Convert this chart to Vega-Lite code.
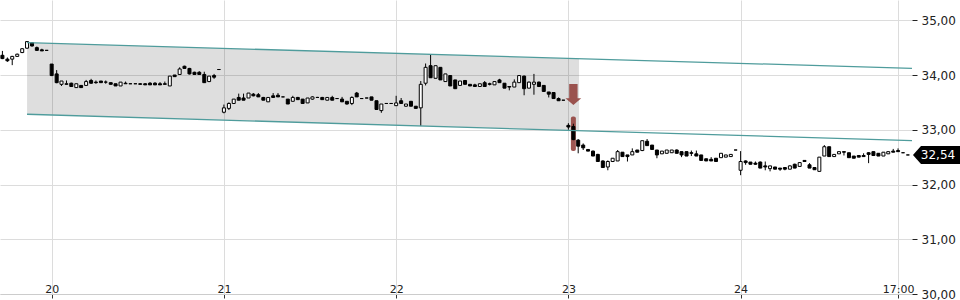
{
  "$schema": "https://vega.github.io/schema/vega-lite/v6.json",
  "width": 912,
  "height": 294,
  "autosize": {"type": "pad"},
  "padding": 0,
  "background": "#ffffff",
  "config": {
    "view": {"stroke": null},
    "axis": {"labelFont": "DejaVu Sans", "labelColor": "#222222", "gridColor": "#dcdcdc", "gridWidth": 1}
  },
  "datasets": {
    "candles": [
      {"t":19.714,"o":34.36,"h":34.44,"l":34.29,"c":34.30},
      {"t":19.743,"o":34.29,"h":34.32,"l":34.24,"c":34.26},
      {"t":19.771,"o":34.29,"h":34.35,"l":34.18,"c":34.34},
      {"t":19.8,"o":34.34,"h":34.39,"l":34.33,"c":34.38},
      {"t":19.829,"o":34.41,"h":34.49,"l":34.40,"c":34.48},
      {"t":19.857,"o":34.49,"h":34.61,"l":34.48,"c":34.61},
      {"t":19.886,"o":34.59,"h":34.60,"l":34.52,"c":34.53},
      {"t":19.914,"o":34.50,"h":34.52,"l":34.44,"c":34.45},
      {"t":19.943,"o":34.46,"h":34.48,"l":34.44,"c":34.44},
      {"t":19.971,"o":34.45,"h":34.45,"l":34.45,"c":34.45},
      {"t":20,"o":34.20,"h":34.20,"l":33.98,"c":33.99},
      {"t":20.029,"o":34.02,"h":34.09,"l":33.85,"c":33.86},
      {"t":20.057,"o":33.83,"h":33.89,"l":33.80,"c":33.89},
      {"t":20.086,"o":33.83,"h":33.90,"l":33.82,"c":33.84},
      {"t":20.114,"o":33.85,"h":33.86,"l":33.79,"c":33.79},
      {"t":20.143,"o":33.77,"h":33.84,"l":33.77,"c":33.84},
      {"t":20.171,"o":33.81,"h":33.81,"l":33.77,"c":33.77},
      {"t":20.2,"o":33.81,"h":33.91,"l":33.81,"c":33.88},
      {"t":20.229,"o":33.90,"h":33.93,"l":33.84,"c":33.85},
      {"t":20.257,"o":33.87,"h":33.90,"l":33.84,"c":33.86},
      {"t":20.286,"o":33.89,"h":33.89,"l":33.86,"c":33.86},
      {"t":20.314,"o":33.87,"h":33.90,"l":33.84,"c":33.87},
      {"t":20.343,"o":33.86,"h":33.86,"l":33.83,"c":33.83},
      {"t":20.371,"o":33.84,"h":33.84,"l":33.80,"c":33.80},
      {"t":20.4,"o":33.80,"h":33.87,"l":33.80,"c":33.87},
      {"t":20.429,"o":33.85,"h":33.88,"l":33.84,"c":33.84},
      {"t":20.457,"o":33.84,"h":33.84,"l":33.84,"c":33.84},
      {"t":20.486,"o":33.84,"h":33.84,"l":33.84,"c":33.84},
      {"t":20.514,"o":33.84,"h":33.85,"l":33.83,"c":33.83},
      {"t":20.543,"o":33.84,"h":33.85,"l":33.82,"c":33.82},
      {"t":20.571,"o":33.85,"h":33.87,"l":33.82,"c":33.82},
      {"t":20.6,"o":33.85,"h":33.87,"l":33.82,"c":33.82},
      {"t":20.629,"o":33.84,"h":33.87,"l":33.82,"c":33.82},
      {"t":20.657,"o":33.84,"h":33.88,"l":33.83,"c":33.83},
      {"t":20.686,"o":33.80,"h":33.98,"l":33.80,"c":33.98},
      {"t":20.714,"o":34.00,"h":34.00,"l":33.97,"c":33.97},
      {"t":20.743,"o":34.01,"h":34.14,"l":34.01,"c":34.11},
      {"t":20.771,"o":34.16,"h":34.17,"l":34.12,"c":34.12},
      {"t":20.8,"o":34.12,"h":34.13,"l":34.01,"c":34.02},
      {"t":20.829,"o":34.05,"h":34.06,"l":34.01,"c":34.01},
      {"t":20.857,"o":34.05,"h":34.07,"l":34.01,"c":34.01},
      {"t":20.886,"o":34.01,"h":34.06,"l":33.86,"c":33.86},
      {"t":20.914,"o":33.88,"h":33.98,"l":33.87,"c":33.98},
      {"t":20.943,"o":33.99,"h":34.02,"l":33.93,"c":33.96},
      {"t":20.971,"o":34.10,"h":34.10,"l":34.10,"c":34.10},
      {"t":21,"o":33.32,"h":33.46,"l":33.30,"c":33.40},
      {"t":21.029,"o":33.39,"h":33.50,"l":33.36,"c":33.48},
      {"t":21.057,"o":33.48,"h":33.56,"l":33.47,"c":33.56},
      {"t":21.086,"o":33.59,"h":33.66,"l":33.54,"c":33.54},
      {"t":21.114,"o":33.58,"h":33.66,"l":33.54,"c":33.54},
      {"t":21.143,"o":33.58,"h":33.67,"l":33.58,"c":33.67},
      {"t":21.171,"o":33.65,"h":33.67,"l":33.61,"c":33.62},
      {"t":21.2,"o":33.64,"h":33.67,"l":33.60,"c":33.60},
      {"t":21.229,"o":33.59,"h":33.60,"l":33.54,"c":33.54},
      {"t":21.257,"o":33.51,"h":33.59,"l":33.51,"c":33.59},
      {"t":21.286,"o":33.62,"h":33.67,"l":33.59,"c":33.59},
      {"t":21.314,"o":33.63,"h":33.67,"l":33.60,"c":33.60},
      {"t":21.343,"o":33.60,"h":33.60,"l":33.60,"c":33.60},
      {"t":21.371,"o":33.56,"h":33.56,"l":33.47,"c":33.47},
      {"t":21.4,"o":33.52,"h":33.62,"l":33.52,"c":33.59},
      {"t":21.429,"o":33.59,"h":33.60,"l":33.55,"c":33.55},
      {"t":21.457,"o":33.56,"h":33.56,"l":33.48,"c":33.48},
      {"t":21.486,"o":33.49,"h":33.58,"l":33.49,"c":33.58},
      {"t":21.514,"o":33.56,"h":33.61,"l":33.55,"c":33.60},
      {"t":21.543,"o":33.59,"h":33.60,"l":33.59,"c":33.59},
      {"t":21.571,"o":33.59,"h":33.60,"l":33.55,"c":33.55},
      {"t":21.6,"o":33.54,"h":33.59,"l":33.54,"c":33.59},
      {"t":21.629,"o":33.59,"h":33.62,"l":33.54,"c":33.54},
      {"t":21.657,"o":33.57,"h":33.57,"l":33.57,"c":33.57},
      {"t":21.686,"o":33.56,"h":33.60,"l":33.51,"c":33.51},
      {"t":21.714,"o":33.52,"h":33.52,"l":33.46,"c":33.47},
      {"t":21.743,"o":33.48,"h":33.61,"l":33.45,"c":33.59},
      {"t":21.771,"o":33.67,"h":33.69,"l":33.60,"c":33.60},
      {"t":21.8,"o":33.57,"h":33.58,"l":33.57,"c":33.57},
      {"t":21.829,"o":33.58,"h":33.58,"l":33.58,"c":33.58},
      {"t":21.857,"o":33.60,"h":33.60,"l":33.54,"c":33.54},
      {"t":21.886,"o":33.53,"h":33.53,"l":33.37,"c":33.37},
      {"t":21.914,"o":33.35,"h":33.47,"l":33.31,"c":33.47},
      {"t":21.943,"o":33.48,"h":33.48,"l":33.48,"c":33.48},
      {"t":21.971,"o":33.48,"h":33.48,"l":33.48,"c":33.48},
      {"t":22,"o":33.44,"h":33.62,"l":33.44,"c":33.49},
      {"t":22.029,"o":33.53,"h":33.58,"l":33.48,"c":33.48},
      {"t":22.057,"o":33.43,"h":33.47,"l":33.42,"c":33.47},
      {"t":22.086,"o":33.52,"h":33.52,"l":33.43,"c":33.43},
      {"t":22.114,"o":33.43,"h":33.43,"l":33.39,"c":33.39},
      {"t":22.143,"o":33.40,"h":33.89,"l":33.07,"c":33.83},
      {"t":22.171,"o":33.85,"h":34.21,"l":33.81,"c":34.14},
      {"t":22.2,"o":34.17,"h":34.38,"l":33.95,"c":33.95},
      {"t":22.229,"o":33.94,"h":34.17,"l":33.94,"c":34.17},
      {"t":22.257,"o":34.14,"h":34.14,"l":33.91,"c":33.91},
      {"t":22.286,"o":33.88,"h":34.02,"l":33.88,"c":34.02},
      {"t":22.314,"o":33.99,"h":33.99,"l":33.80,"c":33.80},
      {"t":22.343,"o":33.91,"h":33.91,"l":33.75,"c":33.75},
      {"t":22.371,"o":33.81,"h":33.89,"l":33.81,"c":33.89},
      {"t":22.4,"o":33.90,"h":33.90,"l":33.83,"c":33.83},
      {"t":22.429,"o":33.83,"h":33.83,"l":33.80,"c":33.80},
      {"t":22.457,"o":33.82,"h":33.84,"l":33.79,"c":33.79},
      {"t":22.486,"o":33.79,"h":33.84,"l":33.79,"c":33.84},
      {"t":22.514,"o":33.86,"h":33.89,"l":33.79,"c":33.79},
      {"t":22.543,"o":33.84,"h":33.86,"l":33.81,"c":33.83},
      {"t":22.571,"o":33.82,"h":33.88,"l":33.82,"c":33.88},
      {"t":22.6,"o":33.91,"h":33.93,"l":33.86,"c":33.86},
      {"t":22.629,"o":33.85,"h":33.85,"l":33.76,"c":33.76},
      {"t":22.657,"o":33.79,"h":33.79,"l":33.72,"c":33.78},
      {"t":22.686,"o":33.78,"h":33.92,"l":33.78,"c":33.87},
      {"t":22.714,"o":33.86,"h":34.00,"l":33.86,"c":33.99},
      {"t":22.743,"o":33.98,"h":33.99,"l":33.63,"c":33.75},
      {"t":22.771,"o":33.76,"h":33.88,"l":33.76,"c":33.87},
      {"t":22.8,"o":33.83,"h":34.02,"l":33.64,"c":33.87},
      {"t":22.829,"o":33.87,"h":33.88,"l":33.78,"c":33.79},
      {"t":22.857,"o":33.81,"h":33.81,"l":33.69,"c":33.70},
      {"t":22.886,"o":33.69,"h":33.69,"l":33.59,"c":33.65},
      {"t":22.914,"o":33.68,"h":33.68,"l":33.57,"c":33.57},
      {"t":22.943,"o":33.57,"h":33.59,"l":33.53,"c":33.53},
      {"t":22.971,"o":33.54,"h":33.54,"l":33.54,"c":33.54},
      {"t":23,"o":33.08,"h":33.12,"l":33.00,"c":33.05},
      {"t":23.029,"o":33.06,"h":33.11,"l":32.81,"c":32.82},
      {"t":23.057,"o":32.81,"h":32.83,"l":32.57,"c":32.70},
      {"t":23.086,"o":32.72,"h":32.75,"l":32.63,"c":32.67},
      {"t":23.114,"o":32.64,"h":32.64,"l":32.61,"c":32.61},
      {"t":23.143,"o":32.61,"h":32.62,"l":32.52,"c":32.52},
      {"t":23.171,"o":32.55,"h":32.56,"l":32.42,"c":32.42},
      {"t":23.2,"o":32.43,"h":32.44,"l":32.31,"c":32.31},
      {"t":23.229,"o":32.32,"h":32.44,"l":32.26,"c":32.42},
      {"t":23.257,"o":32.42,"h":32.48,"l":32.41,"c":32.48},
      {"t":23.286,"o":32.43,"h":32.63,"l":32.43,"c":32.60},
      {"t":23.314,"o":32.59,"h":32.59,"l":32.51,"c":32.51},
      {"t":23.343,"o":32.54,"h":32.54,"l":32.42,"c":32.51},
      {"t":23.371,"o":32.54,"h":32.66,"l":32.54,"c":32.60},
      {"t":23.4,"o":32.63,"h":32.63,"l":32.59,"c":32.59},
      {"t":23.429,"o":32.62,"h":32.80,"l":32.61,"c":32.80},
      {"t":23.457,"o":32.79,"h":32.83,"l":32.71,"c":32.71},
      {"t":23.486,"o":32.72,"h":32.72,"l":32.64,"c":32.64},
      {"t":23.514,"o":32.63,"h":32.63,"l":32.48,"c":32.54},
      {"t":23.543,"o":32.56,"h":32.61,"l":32.56,"c":32.61},
      {"t":23.571,"o":32.57,"h":32.63,"l":32.57,"c":32.63},
      {"t":23.6,"o":32.58,"h":32.63,"l":32.58,"c":32.63},
      {"t":23.629,"o":32.63,"h":32.64,"l":32.57,"c":32.57},
      {"t":23.657,"o":32.60,"h":32.60,"l":32.50,"c":32.54},
      {"t":23.686,"o":32.60,"h":32.60,"l":32.52,"c":32.52},
      {"t":23.714,"o":32.58,"h":32.62,"l":32.52,"c":32.57},
      {"t":23.743,"o":32.56,"h":32.62,"l":32.52,"c":32.52},
      {"t":23.771,"o":32.54,"h":32.54,"l":32.44,"c":32.44},
      {"t":23.8,"o":32.47,"h":32.47,"l":32.43,"c":32.43},
      {"t":23.829,"o":32.46,"h":32.50,"l":32.43,"c":32.43},
      {"t":23.857,"o":32.48,"h":32.48,"l":32.42,"c":32.42},
      {"t":23.886,"o":32.49,"h":32.57,"l":32.49,"c":32.57},
      {"t":23.914,"o":32.50,"h":32.54,"l":32.50,"c":32.54},
      {"t":23.943,"o":32.51,"h":32.55,"l":32.51,"c":32.55},
      {"t":23.971,"o":32.63,"h":32.63,"l":32.63,"c":32.63},
      {"t":24,"o":32.26,"h":32.61,"l":32.17,"c":32.42},
      {"t":24.029,"o":32.43,"h":32.44,"l":32.36,"c":32.40},
      {"t":24.057,"o":32.41,"h":32.41,"l":32.37,"c":32.37},
      {"t":24.086,"o":32.39,"h":32.42,"l":32.36,"c":32.37},
      {"t":24.114,"o":32.41,"h":32.42,"l":32.30,"c":32.30},
      {"t":24.143,"o":32.34,"h":32.42,"l":32.26,"c":32.32},
      {"t":24.171,"o":32.29,"h":32.34,"l":32.24,"c":32.34},
      {"t":24.2,"o":32.32,"h":32.32,"l":32.28,"c":32.28},
      {"t":24.229,"o":32.30,"h":32.30,"l":32.25,"c":32.28},
      {"t":24.257,"o":32.31,"h":32.31,"l":32.26,"c":32.28},
      {"t":24.286,"o":32.28,"h":32.35,"l":32.28,"c":32.34},
      {"t":24.314,"o":32.37,"h":32.38,"l":32.30,"c":32.30},
      {"t":24.343,"o":32.33,"h":32.40,"l":32.33,"c":32.40},
      {"t":24.371,"o":32.44,"h":32.44,"l":32.42,"c":32.42},
      {"t":24.4,"o":32.36,"h":32.39,"l":32.30,"c":32.30},
      {"t":24.429,"o":32.31,"h":32.31,"l":32.27,"c":32.27},
      {"t":24.457,"o":32.24,"h":32.50,"l":32.24,"c":32.50},
      {"t":24.486,"o":32.52,"h":32.72,"l":32.52,"c":32.69},
      {"t":24.514,"o":32.69,"h":32.69,"l":32.51,"c":32.51},
      {"t":24.543,"o":32.51,"h":32.55,"l":32.51,"c":32.55},
      {"t":24.571,"o":32.56,"h":32.60,"l":32.56,"c":32.60},
      {"t":24.6,"o":32.60,"h":32.60,"l":32.53,"c":32.59},
      {"t":24.629,"o":32.58,"h":32.58,"l":32.49,"c":32.49},
      {"t":24.657,"o":32.52,"h":32.52,"l":32.48,"c":32.48},
      {"t":24.686,"o":32.53,"h":32.53,"l":32.50,"c":32.50},
      {"t":24.714,"o":32.53,"h":32.57,"l":32.51,"c":32.51},
      {"t":24.743,"o":32.58,"h":32.59,"l":32.39,"c":32.55},
      {"t":24.771,"o":32.60,"h":32.60,"l":32.52,"c":32.53},
      {"t":24.8,"o":32.57,"h":32.57,"l":32.52,"c":32.52},
      {"t":24.829,"o":32.52,"h":32.59,"l":32.52,"c":32.59},
      {"t":24.857,"o":32.56,"h":32.60,"l":32.56,"c":32.60},
      {"t":24.886,"o":32.61,"h":32.65,"l":32.59,"c":32.59},
      {"t":24.914,"o":32.62,"h":32.66,"l":32.60,"c":32.60},
      {"t":24.943,"o":32.58,"h":32.58,"l":32.58,"c":32.58},
      {"t":24.971,"o":32.54,"h":32.54,"l":32.54,"c":32.54}
    ],
    "band": [
      {"t": 19.857, "upper": 34.591, "lower": 33.283},
      {"t": 23.062, "upper": 34.298, "lower": 32.984}
    ],
    "channel": [
      {"line": "upper", "t": 19.857, "p": 34.591},
      {"line": "upper", "t": 24.995, "p": 34.122},
      {"line": "lower", "t": 19.857, "p": 33.283},
      {"line": "lower", "t": 24.995, "p": 32.803}
    ],
    "signal": [
      {"t": 23.029, "top": 33.24, "bottom": 32.61, "arrow": 33.645}
    ],
    "last": [
      {"p": 32.54, "label": "32,54"}
    ]
  },
  "layer": [
    {
      "data": {"name": "band"},
      "mark": {"type": "area", "fill": "#000000", "fillOpacity": 0.13},
      "encoding": {
        "x": {"field": "t", "type": "quantitative", "title": null,
              "scale": {"domain": [19.7, 24.995], "nice": false, "zero": false, "padding": 0},
              "axis": {"orient": "bottom", "values": [20, 21, 22, 23, 24, 24.914],
                       "labelExpr": "datum.value > 24.5 ? '17:00' : format(datum.value, 'd')",
                       "grid": true, "domain": true, "domainColor": "#cccccc", "domainWidth": 1,
                       "ticks": true, "tickSize": 4, "tickColor": "#333333",
                       "labelBaseline": "alphabetic", "labelPadding": -6, "labelFontSize": 11,
                       "labelFlush": false, "labelOverlap": false, "labelBound": false}},
        "y": {"field": "upper", "type": "quantitative", "title": null,
              "scale": {"domain": [30, 35.37], "nice": false, "zero": false, "padding": 0},
              "axis": {"orient": "right", "values": [30, 31, 32, 33, 34, 35],
                       "labelExpr": "replace(format(datum.value, '.2f'), '.', ',')",
                       "grid": true, "domain": false, "ticks": true, "tickSize": 5, "tickColor": "#222222",
                       "labelPadding": 4, "labelFontSize": 12, "labelFlush": false, "labelOverlap": false, "labelBound": false}},
        "y2": {"field": "lower"}
      }
    },
    {
      "data": {"name": "signal"},
      "mark": {"type": "bar", "width": 5, "color": "#8e3a35", "opacity": 0.85, "cornerRadius": 2},
      "encoding": {
        "x": {"field": "t", "type": "quantitative", "title": null},
        "y": {"field": "top", "type": "quantitative", "title": null},
        "y2": {"field": "bottom"}
      }
    },
    {
      "data": {"name": "candles"},
      "mark": {"type": "rule", "color": "#000000", "strokeWidth": 1},
      "encoding": {
        "x": {"field": "t", "type": "quantitative", "title": null},
        "y": {"field": "h", "type": "quantitative", "title": null},
        "y2": {"field": "l"}
      }
    },
    {
      "data": {"name": "candles"},
      "mark": {"type": "bar", "width": 3, "stroke": "#000000", "strokeWidth": 1},
      "encoding": {
        "x": {"field": "t", "type": "quantitative", "title": null},
        "y": {"field": "o", "type": "quantitative", "title": null},
        "y2": {"field": "c"},
        "fill": {"condition": {"test": "datum.c > datum.o", "value": "#ffffff"}, "value": "#000000"}
      }
    },
    {
      "data": {"name": "channel"},
      "mark": {"type": "line", "color": "#4f9c9c", "strokeWidth": 1.3},
      "encoding": {
        "x": {"field": "t", "type": "quantitative", "title": null},
        "y": {"field": "p", "type": "quantitative", "title": null},
        "detail": {"field": "line"}
      }
    },
    {
      "data": {"name": "signal"},
      "mark": {"type": "point", "shape": "M-0.4,-1 L0.4,-1 L0.4,0.36 L0.75,0.36 L0,1 L-0.75,0.36 L-0.4,0.36 Z",
               "size": 441, "filled": true, "fill": "#8e3a35", "fillOpacity": 0.85, "strokeWidth": 0},
      "encoding": {
        "x": {"field": "t", "type": "quantitative", "title": null},
        "y": {"field": "arrow", "type": "quantitative", "title": null}
      }
    },
    {
      "data": {"name": "last"},
      "mark": {"type": "point", "shape": "M0.04,0 L0.375,-0.375 L2,-0.375 L2,0.375 L0.375,0.375 Z",
               "size": 2304, "filled": true, "fill": "#000000", "opacity": 1, "strokeWidth": 0},
      "encoding": {
        "x": {"value": "width"},
        "y": {"field": "p", "type": "quantitative", "title": null}
      }
    },
    {
      "data": {"name": "last"},
      "mark": {"type": "text", "color": "#ffffff", "font": "DejaVu Sans", "fontSize": 12, "align": "center", "baseline": "middle", "dx": 26},
      "encoding": {
        "x": {"value": "width"},
        "y": {"field": "p", "type": "quantitative", "title": null},
        "text": {"field": "label"}
      }
    }
  ]
}
